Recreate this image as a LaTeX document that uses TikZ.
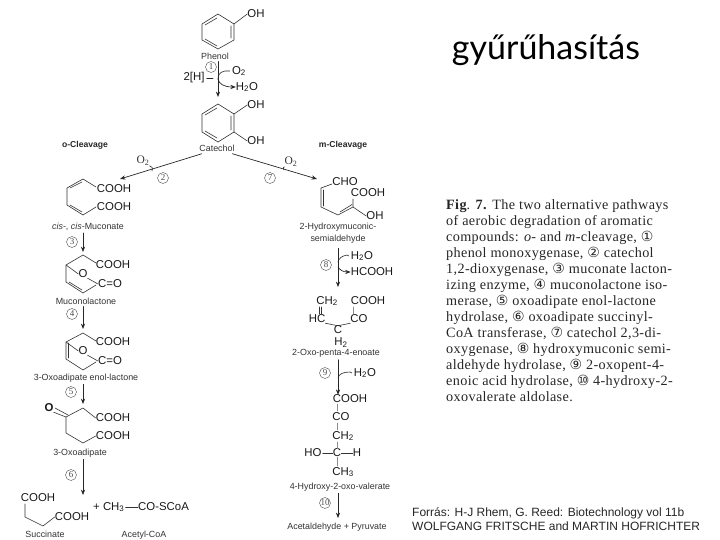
\documentclass[tikz,border=0pt]{standalone}
\usepackage{fontspec}
\setmainfont{Liberation Serif}
\setsansfont{Liberation Sans}
\newfontfamily\titlefont{Lato}
\newfontfamily\capfont[LetterSpace=2.5]{Liberation Serif}
\newfontfamily\symbfont{DejaVu Sans}
\usetikzlibrary{arrows.meta,calc,positioning}
\newcommand{\cnum}[1]{{\symbfont\fontsize{14}{16}\selectfont #1}}
\tikzset{
  every picture/.append style={line cap=round,line join=round},
  pw bond/.style={line width=0.6pt,black!80},
  pw faint/.style={line width=0.5pt,black!45},
  pw arrow/.style={line width=0.7pt,black!85,-{Stealth[length=1.9mm,width=1.5mm]}},
  pw hook/.style={line width=0.6pt,black!85},
  pw group/.style={font=\sffamily\fontsize{11.4}{12}\selectfont,inner sep=0pt,black!90},
  pw name/.style={font=\sffamily\fontsize{8.9}{12}\selectfont,inner sep=0pt,align=center,black!80},
  pw side/.style={font=\sffamily\bfseries\fontsize{8.6}{9}\selectfont,inner sep=0pt,black!85},
  pw cofactor/.style={font=\fontsize{11.5}{12}\selectfont,inner sep=0pt,black!80},
  pw step/.style={circle,draw=black!50,line width=0.4pt,inner sep=0pt,minimum size=11pt,
    font=\fontsize{9}{9}\selectfont,black!70}
}
\begin{document}
\begin{tikzpicture}[x=1pt,y=-1pt]
\useasboundingbox (0,0) rectangle (720,540);

\node[font=\titlefont\fontsize{34}{38}\selectfont,inner sep=0pt] (title) at (546,50) {gyűrűhasítás};

% phenol
\coordinate (phenol top) at (218,14);
\draw[pw bond] (phenol top) -- (234,24) -- (234,40) -- (218,49) -- (202,40) -- (202,24) -- cycle;
\draw[pw bond] (205,25) -- (217,18) (231,26) -- (231,38) (205,39) -- (217,46);
\node[pw group] (phenol oh) at (256,14) {OH};
\draw[pw bond] (234,24) -- (phenol oh.west);
\node[pw name] (phenol) at (215,56) {Phenol};

% catechol
\coordinate (catechol top) at (218,104);
\draw[pw bond] (catechol top) -- (234,114) -- (234,132) -- (218,142) -- (202,132) -- (202,114) -- cycle;
\draw[pw bond] (205,115) -- (217,108) (231,116) -- (231,130) (205,131) -- (217,138);
\node[pw group] (catechol oh1) at (256,105) {OH};
\node[pw group] (catechol oh2) at (256,141) {OH};
\draw[pw bond] (234,114) -- (catechol oh1.west);
\draw[pw bond] (234,132) -- (catechol oh2.west);
\node[pw name] (catechol) at (217,148) {Catechol};

% step 1
\node[pw step] (s1) at (211,67) {1};
\draw[pw arrow,shorten <=2pt,shorten >=7pt] (phenol.south -| catechol top) -- (catechol top);
\node[pw group] (hh) at (194,78) {2[H]};
\node[pw group] (o2 a) at (239,71) {O\textsubscript{2}};
\node[pw group] (h2o a) at (247,87) {H\textsubscript{2}O};
\coordinate (turn a) at (218,79);
\draw[pw hook] (hh.east) ++(2,0) -- (213,78);
\draw[pw hook] (o2 a.west) ++(-2,0) -- (225,71) .. controls (219,72) and (218,76) .. (turn a);
\draw[pw arrow] (turn a) .. controls (219,84) and (224,87) .. (h2o a.west);

% the two cleavage ways
\node[pw side] (o side) at (85,145) {o-Cleavage};
\node[pw side] (m side) at (343,145) {m-Cleavage};
\coordinate (muco in) at (120,179);
\coordinate (hydroxy in) at (317,179);
\draw[pw arrow,shorten <=8pt] (catechol.south west) ++(10,0) -- (muco in);
\draw[pw arrow,shorten <=8pt] (catechol.south east) ++(-10,0) -- (hydroxy in);
\node[pw cofactor] (o2 b) at (143,161) {O\textsubscript{2}};
\node[pw cofactor] (o2 c) at (291,162) {O\textsubscript{2}};
\draw[pw hook] (o2 b.south east) .. controls (152,166) and (153,168) .. (152,171);
\draw[pw hook] (o2 c.south west) .. controls (283,167) and (283,168) .. (284,170);
\node[pw step] (s2) at (163,178) {2};
\node[pw step] (s7) at (270,178) {7};

% cis,cis-muconate
\coordinate (muco top) at (83,179);
\draw[pw bond] (96,187) -- (muco top) -- (67,188) -- (67,205) -- (83,215) -- (96,207);
\draw[pw bond] (70,188) -- (82,182) (70,205) -- (82,212);
\node[pw group] (muco c1) at (114,189) {COOH};
\node[pw group] (muco c2) at (114,207) {COOH};
\node[pw name] (muco) at (88,227) {\textit{cis}-, \textit{cis}-Muconate};

% muconolactone
\coordinate (lact top) at (83,255);
\draw[pw bond] (96,263) -- (lact top) -- (66,265) -- (66,282) -- (83,293) -- (96,285);
\draw[pw bond] (69,282) -- (82,290);
\node[pw group] (lact o) at (83,274) {O};
\node[pw group] (lact c1) at (113,265) {COOH};
\node[pw group] (lact c2) at (110,284) {C=O};
\draw[pw bond] (66,265) -- (lact o.west);
\draw[pw bond] (lact o.south east) -- (lact c2.west);
\node[pw name] (lact) at (86,301) {Muconolactone};

% 3-oxoadipate enol-lactone
\coordinate (enol top) at (83,333);
\draw[pw bond] (96,341) -- (enol top) -- (66,342) -- (66,359) -- (83,370) -- (96,362);
\draw[pw bond] (68.5,343) -- (68.5,358);
\node[pw group] (enol o) at (83,351) {O};
\node[pw group] (enol c1) at (113,342) {COOH};
\node[pw group] (enol c2) at (110,361) {C=O};
\draw[pw bond] (66,342) -- (enol o.west);
\draw[pw bond] (enol o.south east) -- (enol c2.west);
\node[pw name] (enol) at (86,378) {3-Oxoadipate enol-lactone};

% 3-oxoadipate
\coordinate (adip top) at (83,408);
\node[pw group,font=\sffamily\bfseries\fontsize{11.4}{12}\selectfont] (adip o) at (49,408) {O};
\draw[pw bond] (adip o.south east) -- (66,417);
\draw[pw bond] (55,408) -- (68,415);
\node[pw group] (adip c1) at (113,418) {COOH};
\node[pw group] (adip c2) at (113,436) {COOH};
\draw[pw bond] (adip c1.west) -- (adip top) -- (66,417) -- (66,433) -- (83,443) -- (adip c2.west);
\node[pw name] (adip) at (80,453) {3-Oxoadipate};

% left side products
\node[pw group] (succ c1) at (38,498) {COOH};
\node[pw group] (succ c2) at (72,517) {COOH};
\draw[pw bond] (25,504) -- (25,517) -- (43,526) -- (succ c2.west);
\node[pw group,anchor=west] (acet a) at (93,507) {+ CH\textsubscript{3}};
\node[pw group,anchor=west] (acet b) at (138,507) {CO-SCoA};
\draw[pw bond] (acet a.east) ++(1,0) -- (acet b.west);
\node[pw name] (succ) at (45,534) {Succinate};
\node[pw name] (acet) at (144,535) {Acetyl-CoA};

% left side steps
\node[pw step] (s3) at (72,242) {3};
\node[pw step] (s4) at (72,314) {4};
\node[pw step] (s5) at (71,392) {5};
\node[pw step] (s6) at (71,475) {6};
\draw[pw arrow,shorten <=2pt,shorten >=3pt] (muco.south -| lact top) -- (lact top);
\draw[pw arrow,shorten <=2pt,shorten >=4pt] (lact.south -| enol top) -- (enol top);
\draw[pw arrow,shorten <=2pt,shorten >=4pt] (enol.south -| adip top) -- (adip top);
\coordinate (succ in) at (83,495);
\draw[pw arrow,shorten <=2pt] (adip.south -| succ in) -- (succ in);

% 2-hydroxymuconic semialdehyde
\draw[pw bond] (332,184) -- (321,188) -- (321,207) -- (338,215) -- (353,207) -- (353,199);
\draw[pw bond] (323.5,190) -- (323.5,206) (340,212) -- (352,204.5);
\node[pw group] (hyd cho) at (345,182) {CHO};
\node[pw group] (hyd c1) at (368,193) {COOH};
\node[pw group] (hyd oh) at (375,216) {OH};
\draw[pw bond] (353,207) -- (hyd oh.west);
\node[pw name] (hyd) at (338,233) {2-Hydroxymuconic-\\semialdehyde};

% 2-oxo-penta-4-enoate
\node[pw group] (ene ch) at (327,301) {CH\textsubscript{2}};
\node[pw group] (ene c1) at (368,301) {COOH};
\node[pw group] (ene hc) at (317,319) {HC};
\node[pw group] (ene co) at (359,319) {CO};
\node[pw group] (ene h) at (338,330) {C};
\node[pw group] (ene h2) at (341,342.5) {H\textsubscript{2}};
\draw[pw bond] (319,307) -- (319,314) (321.5,307) -- (321.5,314);
\draw[pw faint] (353,307) -- (353,314);
\draw[pw bond] (ene hc.south east) -- (ene h.north) -- (ene co.south west);
\node[pw name] (ene) at (336,353.5) {2-Oxo-penta-4-enoate};

% 4-hydroxy-2-oxo-valerate
\node[pw group] (val c1) at (350,399) {COOH};
\node[pw group] (val c2) at (341,417) {CO};
\node[pw group] (val c3) at (343,436) {CH\textsubscript{2}};
\node[pw group] (val c4) at (337,453) {C};
\node[pw group] (val ho) at (313,453) {HO};
\node[pw group] (val h) at (357,453) {H};
\node[pw group] (val c5) at (343,472) {CH\textsubscript{3}};
\draw[pw faint] (337,404) -- (337,411) (337,423) -- (337,430) (337,442) -- (val c4.north) (val c4.south) -- (337,466);
\draw[pw bond] (val ho.east) ++(1,0) -- (val c4.west);
\draw[pw bond] (val c4.east) -- (val h.west);
\node[pw name] (val) at (340,487) {4-Hydroxy-2-oxo-valerate};
\node[pw name] (final) at (337,527) {Acetaldehyde + Pyruvate};

% right side steps
\node[pw step] (s8) at (326,265) {8};
\node[pw step] (s9) at (325,373) {9};
\node[pw step] (s10) at (325,503) {10};
\draw[pw arrow,shorten <=2pt,shorten >=4pt] (hyd.south -| ene h) ++(0,3) -- (338,291);
\draw[pw arrow,shorten <=2pt] (ene.south -| ene h) -- (val c1.north -| ene h);
\draw[pw arrow,shorten <=2pt,shorten >=3pt] (val.south -| final) ++(1,0) -- (338,521);
\node[pw group] (h2o b) at (362,256) {H\textsubscript{2}O};
\node[pw group] (hcooh) at (372,272) {HCOOH};
\node[pw group] (h2o c) at (365,373) {H\textsubscript{2}O};
\draw[pw hook] (h2o b.west) ++(-2,0) -- (347,255) .. controls (342,256) and (339,258) .. (338,262);
\draw[pw arrow] (338,267) .. controls (340,270) and (343,272) .. (hcooh.west);
\draw[pw hook] (h2o c.west) ++(-2,0) -- (350,372) .. controls (343,372) and (339,374) .. (338,378);

% caption
\node[anchor=north west,inner sep=0pt,align=left,font=\capfont\fontsize{14.2}{16}\selectfont,black!85] (caption) at (446,199.5) {%
\textbf{Fig}. \textbf{7.} The two alternative pathways\\
of aerobic degradation of aromatic\\
compounds: \textit{o}- and \textit{m}-cleavage, \cnum{①}\\
phenol monoxygenase, \cnum{②} catechol\\
1,2-dioxygenase, \cnum{③} muconate lacton-\\
izing enzyme, \cnum{④} muconolactone iso-\\
merase, \cnum{⑤} oxoadipate enol-lactone\\
hydrolase, \cnum{⑥} oxoadipate succinyl-\\
CoA transferase, \cnum{⑦} catechol 2,3-di-\\
oxygenase, \cnum{⑧} hydroxymuconic semi-\\
aldehyde hydrolase, \cnum{⑨} 2-oxopent-4-\\
enoic acid hydrolase, \cnum{⑩} 4-hydroxy-2-\\
oxovalerate aldolase.};

% source
\node[anchor=north west,inner sep=0pt,align=left,font=\sffamily\fontsize{12}{14}\selectfont,black!85] (source) at (412,507) {%
Forrás: H-J Rhem, G. Reed: Biotechnology vol 11b\\
WOLFGANG FRITSCHE and MARTIN HOFRICHTER};
\end{tikzpicture}
\end{document}
